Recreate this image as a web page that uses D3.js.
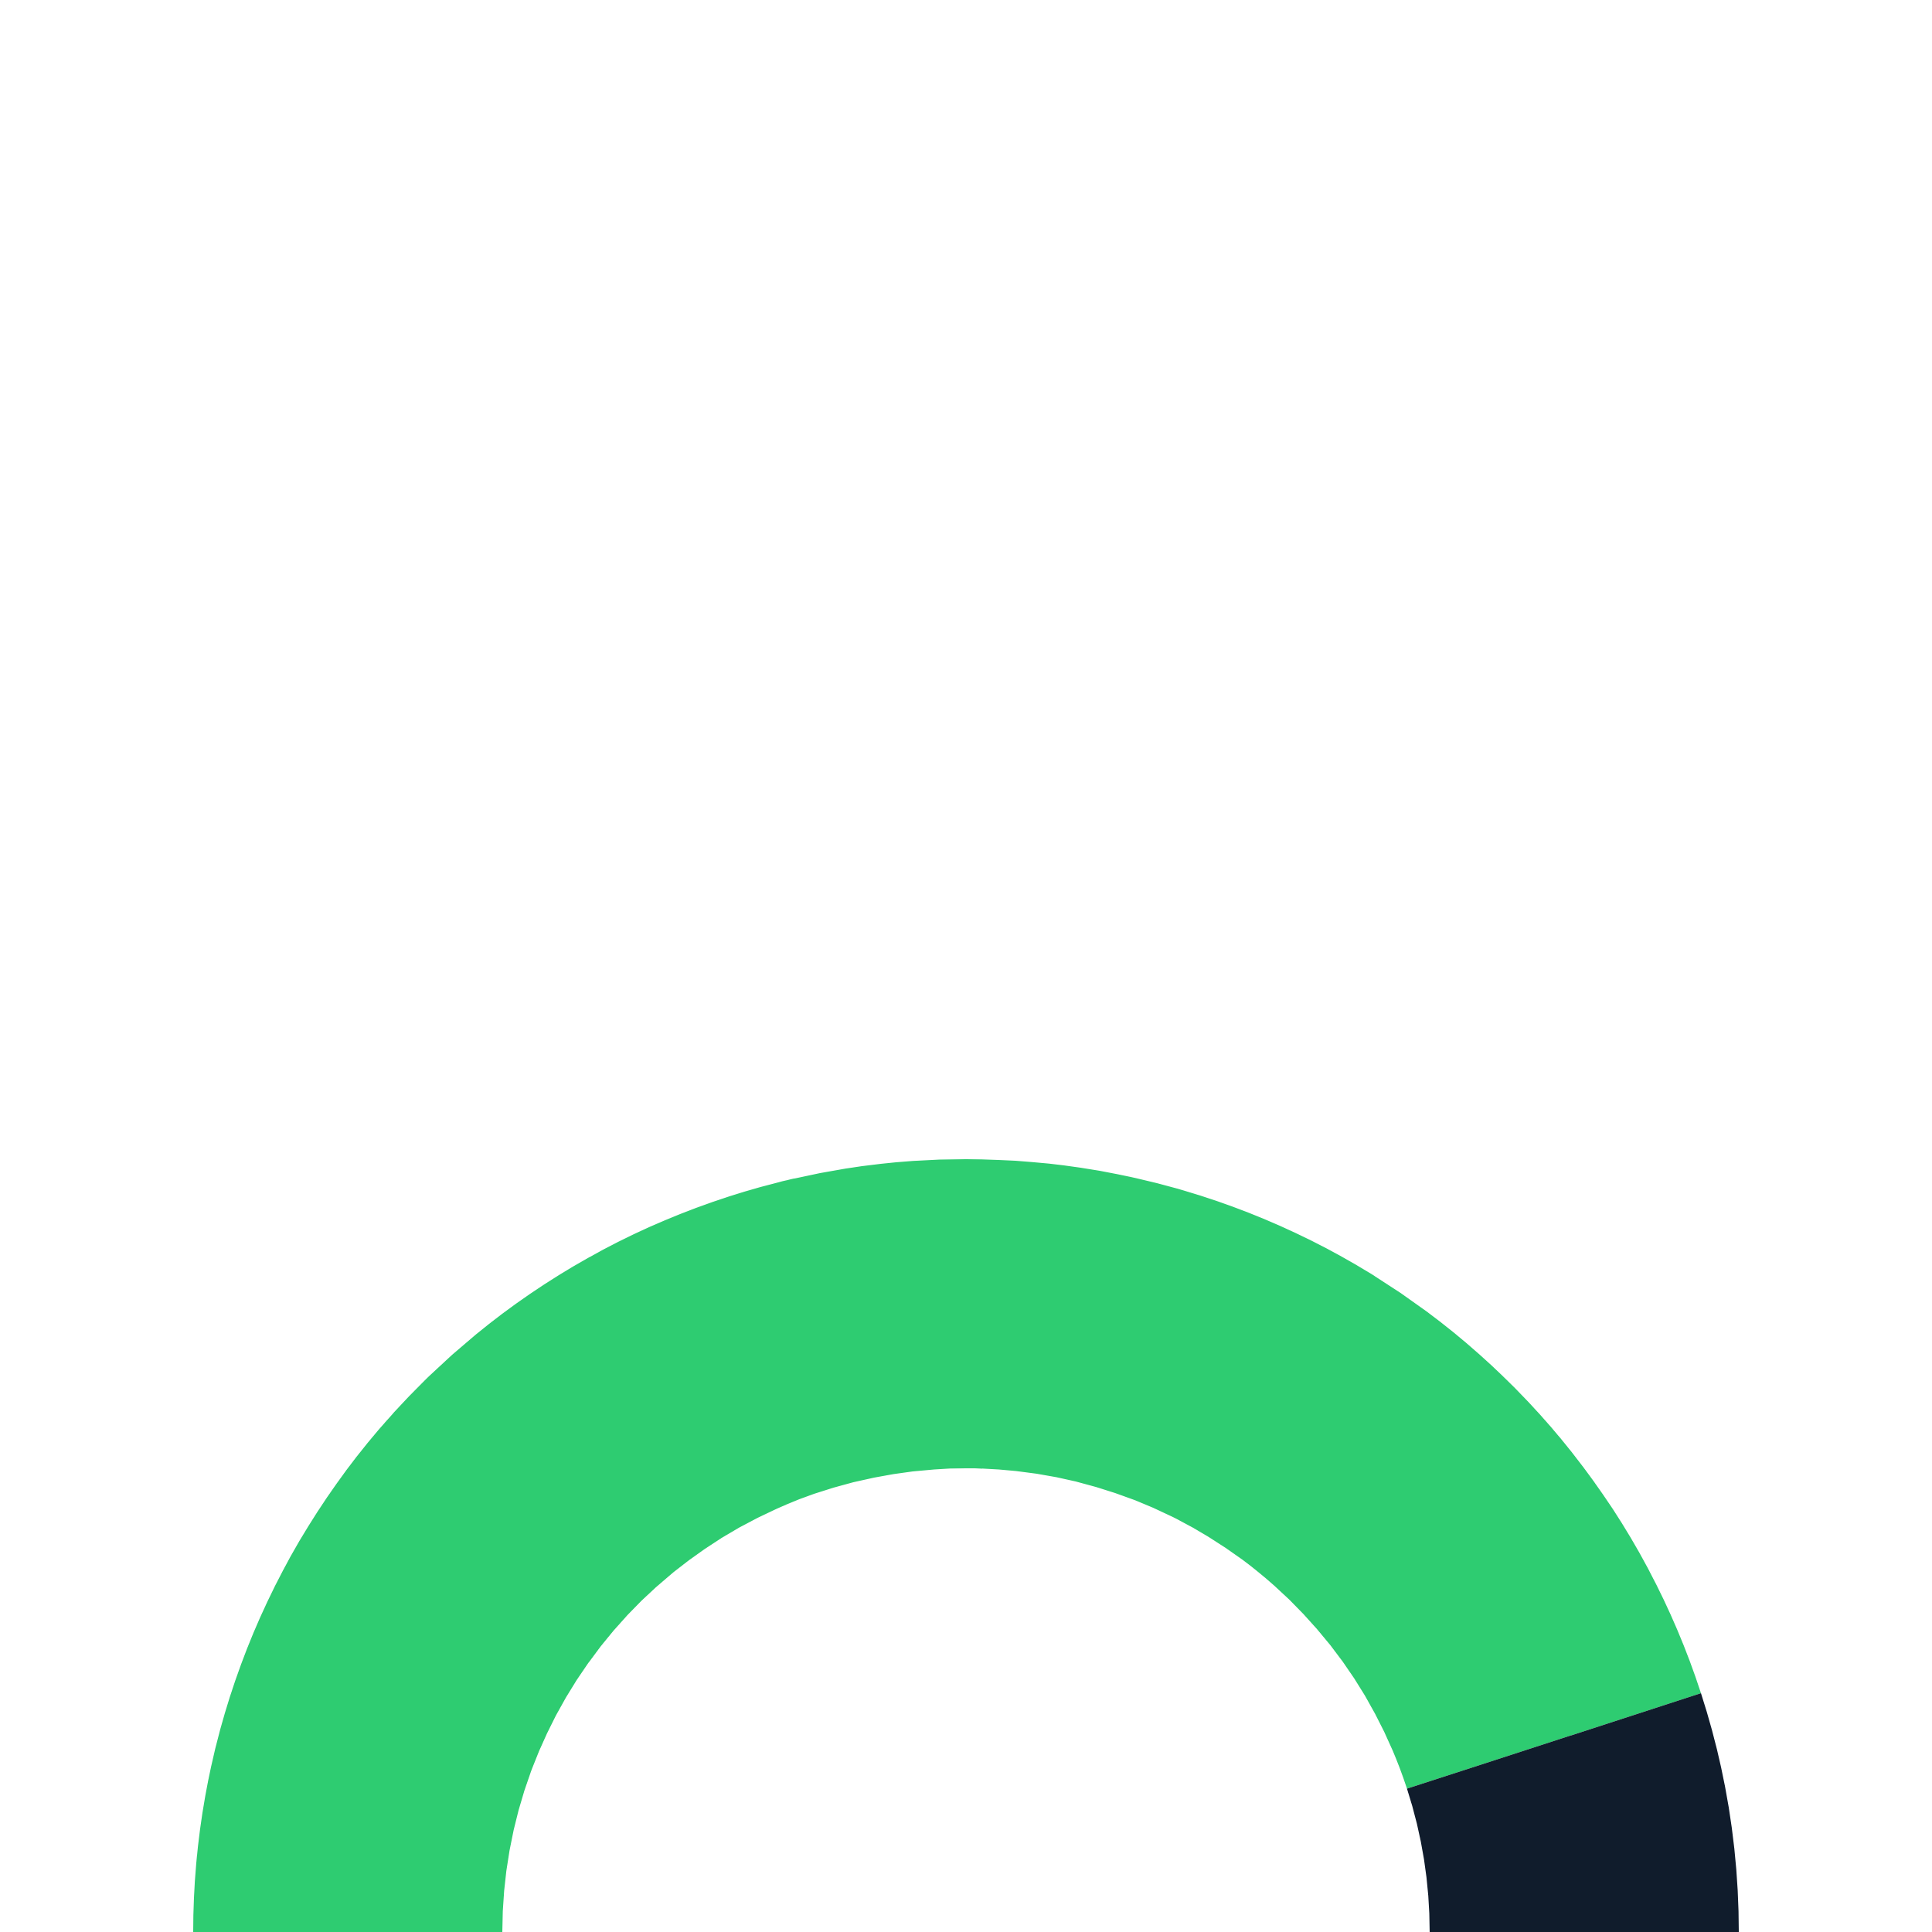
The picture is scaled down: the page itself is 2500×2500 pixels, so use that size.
<!DOCTYPE html>
<html>
<head>
<meta charset="utf-8">
<script src="https://cdn.jsdelivr.net/npm/d3@7"></script>
<style>
  html, body { margin: 0; padding: 0; background: #fff; }
  svg { display: block; }
</style>
</head>
<body>
<div id="gauge-chart"></div>
<script>
// Gauge data: filled part and remainder
var categories = ["Value", "Remaining"];
var values = [90, 10];
var colors = ["#2ecc71", "#101c2c"];

var width = 2500,
    height = 2500;

var outerRadius = 1000,
    innerRadius = 600;

var svg = d3.select("#gauge-chart").append("svg")
    .attr("width", width)
    .attr("height", height)
    .append("g")
    .attr("transform", "translate(" + width / 2 + "," + height + ")");

// Half donut, from left (-90deg) to right (+90deg)
var pie = d3.pie()
    .sort(null)
    .startAngle(-Math.PI / 2)
    .endAngle(Math.PI / 2)
    .value(function(d) { return d; });

var arc = d3.arc()
    .innerRadius(innerRadius)
    .outerRadius(outerRadius);

var color = d3.scaleOrdinal()
    .domain(categories)
    .range(colors);

svg.selectAll("path")
    .data(pie(values))
    .enter().append("path")
    .attr("d", arc)
    .attr("fill", function(d, i) { return color(categories[i]); });
</script>
</body>
</html>
